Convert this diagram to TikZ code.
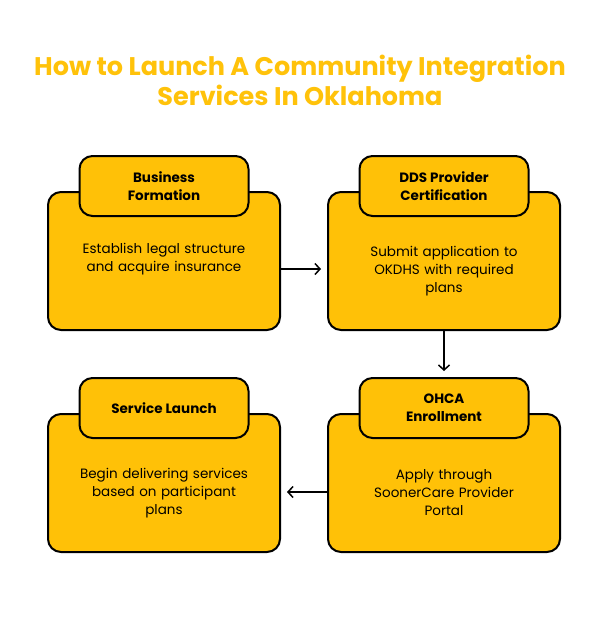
\documentclass[tikz,border=0pt]{standalone}
\usepackage{fontspec}
\setmainfont{Poppins}
\usetikzlibrary{arrows.meta}
\definecolor{amber}{HTML}{FFC107}
\definecolor{titlecol}{HTML}{FFC20A}
\begin{document}
\begin{tikzpicture}[x=1pt,y=-1pt,
  bigbox/.style={draw=black, line width=2pt, fill=amber, rounded corners=13pt, minimum width=232pt, minimum height=138pt, inner sep=0pt},
  tabbox/.style={draw=black, line width=2pt, fill=amber, rounded corners=13pt, minimum width=169pt, minimum height=60pt, inner sep=0pt, align=center, font=\bfseries\fontsize{13.5}{18}\selectfont},
  bodytext/.style={align=center, text width=220pt, inner sep=0pt, font=\fontsize{13.5}{18}\selectfont},
  arr/.style={-{Straight Barb[length=5pt,width=11pt]}, line width=1.5pt, shorten >=6pt}
]
\useasboundingbox (0,0) rectangle (608,624);
\node[font=\bfseries\fontsize{25.5}{30}\selectfont, text=titlecol, align=center] (title) at (300,80) {How to Launch A Community Integration\\Services In Oklahoma};

\node[bigbox] (b1) at (164,261) {};
\node[tabbox] (t1) at (164,186) {Business\\Formation};
\node[bodytext] (x1) at (164,259) {Establish legal structure\\and acquire insurance};

\node[bigbox] (b2) at (444,261) {};
\node[tabbox] (t2) at (444,186) {DDS Provider\\Certification};
\node[bodytext] (x2) at (444,271) {Submit application to\\OKDHS with required\\plans};

\node[bigbox] (b3) at (164,483) {};
\node[tabbox] (t3) at (164,408) {Service Launch};
\node[bodytext] (x3) at (164,493) {Begin delivering services\\based on participant\\plans};

\node[bigbox] (b4) at (444,483) {};
\node[tabbox] (t4) at (444,408) {OHCA\\Enrollment};
\node[bodytext] (x4) at (444,493) {Apply through\\SoonerCare Provider\\Portal};

\draw[arr] ([yshift=-8pt]b1.east) -- ([yshift=-8pt]b2.west);
\draw[arr] (b2.south) -- (t4.north);
\draw[arr] ([yshift=-9pt]b4.west) -- ([yshift=-9pt]b3.east);
\end{tikzpicture}
\end{document}
